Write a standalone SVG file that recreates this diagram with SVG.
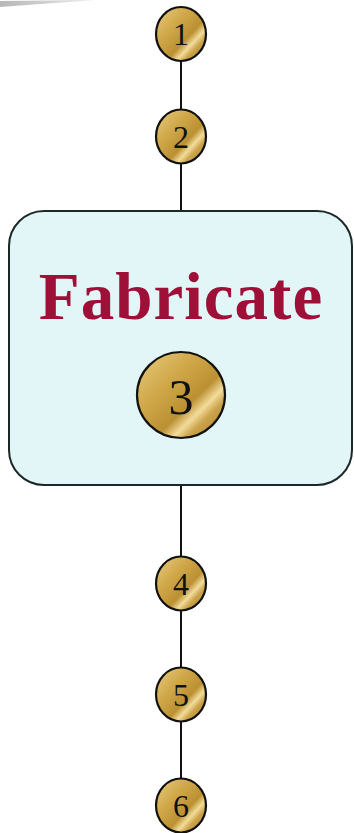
<svg xmlns="http://www.w3.org/2000/svg" width="354" height="833" viewBox="0 0 354 833">
<defs>
<linearGradient id="gold" x1="0" y1="0" x2="1" y2="1">
<stop offset="0" stop-color="#e8cc80"/>
<stop offset="0.35" stop-color="#d0a84a"/>
<stop offset="0.6" stop-color="#bb9032"/>
<stop offset="0.7" stop-color="#f2dc9a"/>
<stop offset="0.78" stop-color="#cba34a"/>
<stop offset="1" stop-color="#a87c28"/>
</linearGradient>
<linearGradient id="swoosh" x1="0" y1="0" x2="1" y2="0">
<stop offset="0" stop-color="#b8b8b8"/>
<stop offset="1" stop-color="#e8e8e8"/>
</linearGradient>
</defs>
<style>
.coin{fill:url(#gold);stroke:#111;stroke-width:2.2}
.num{font-family:"Liberation Serif","Times New Roman",serif;fill:#111;text-anchor:middle}
.conn{stroke:#111;stroke-width:2;fill:none}
.box{fill:#e2f6f7;stroke:#1c2828;stroke-width:2}
.title{font-family:"Liberation Serif","Times New Roman",serif;font-weight:bold;fill:#9e1038;text-anchor:middle}
</style>
<polygon points="0,1 95,0 0,7" fill="url(#swoosh)"/>
<g id="connectors">
<line class="conn" x1="181" y1="61" x2="181" y2="109"/>
<line class="conn" x1="181" y1="164" x2="181" y2="211"/>
<line class="conn" x1="181" y1="439" x2="181" y2="556"/>
<line class="conn" x1="181" y1="611" x2="181" y2="667"/>
<line class="conn" x1="181" y1="722" x2="181" y2="778"/>
</g>
<g id="node-fabricate">
<rect class="box" x="9" y="211" width="343" height="274" rx="35" ry="35"/>
<text class="title" x="181" y="319" font-size="67" letter-spacing="1">Fabricate</text>
</g>
<g id="node-3">
<ellipse class="coin" cx="181" cy="395" rx="44" ry="43"/>
<text class="num" x="181" y="414" font-size="50">3</text>
</g>
<g id="node-1">
<ellipse class="coin" cx="181" cy="34" rx="25" ry="27"/>
<text class="num" x="181" y="45" font-size="32">1</text>
</g>
<g id="node-2">
<ellipse class="coin" cx="181" cy="136.5" rx="25" ry="27"/>
<text class="num" x="181" y="147.5" font-size="32">2</text>
</g>
<g id="node-4">
<ellipse class="coin" cx="181" cy="583.5" rx="25" ry="27"/>
<text class="num" x="181" y="594.5" font-size="32">4</text>
</g>
<g id="node-5">
<ellipse class="coin" cx="181" cy="694.5" rx="25" ry="27"/>
<text class="num" x="181" y="705.5" font-size="32">5</text>
</g>
<g id="node-6">
<ellipse class="coin" cx="181" cy="805.5" rx="25" ry="27"/>
<text class="num" x="181" y="816.5" font-size="32">6</text>
</g>
</svg>
